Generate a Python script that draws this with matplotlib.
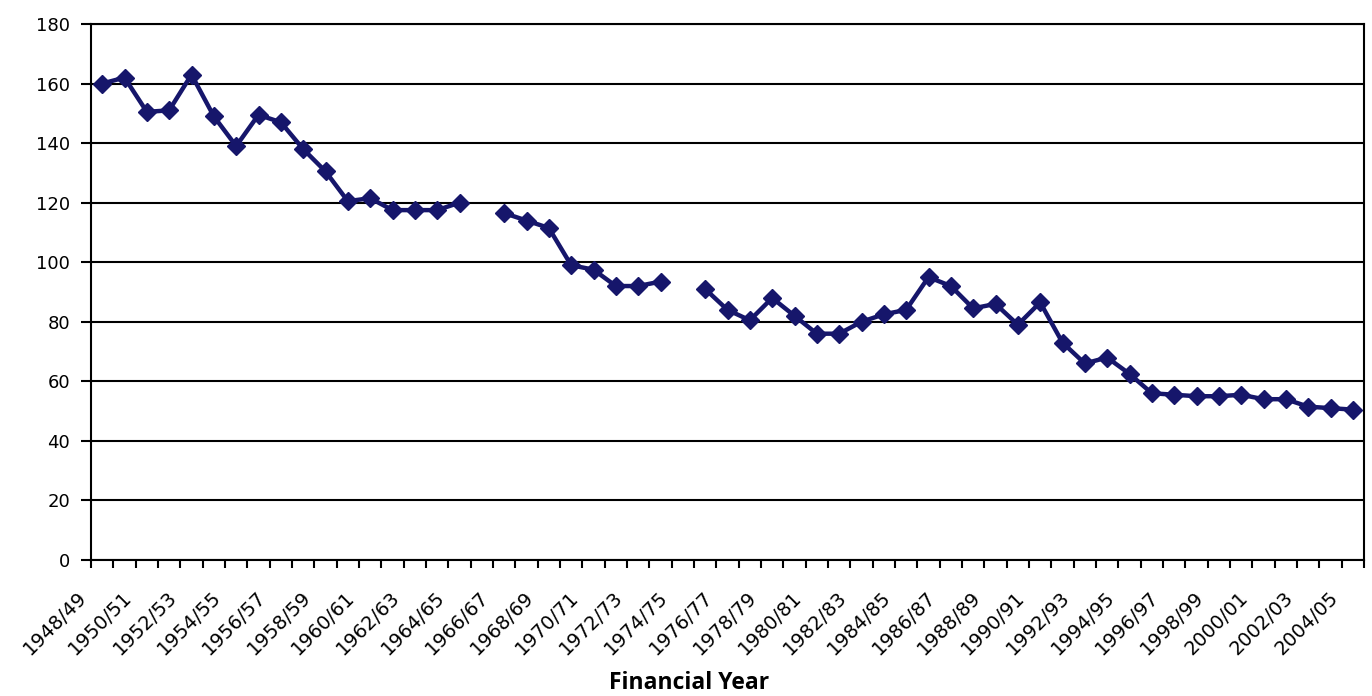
"""
Line chart of the yearly index by financial year, 1948/49 to 2004/05.
"""

import matplotlib
matplotlib.use("Agg")
import matplotlib.pyplot as plt
import matplotlib.transforms as mtransforms
import numpy as np

# Financial years on the category axis.
years = [f"{y}/{(y + 1) % 100:02d}" for y in range(1948, 2005)]

# Values per year; None where no figure was recorded (1965/66, 1974/75).
values = [
    160, 162, 150.5, 151, 163, 149, 139, 149.5, 147, 138,
    130.5, 120.5, 121.5, 117.5, 117.5, 117.5, 120, None, 116.5, 114,
    111.5, 99, 97.5, 92, 92, 93.5, None, 91, 84, 80.5,
    88, 82, 76, 76, 80, 82.5, 84, 95, 92, 84.5,
    86, 79, 86.5, 73, 66, 68, 62.5, 56, 55.5, 55,
    55, 55.5, 54, 54, 51.5, 51, 50.5,
]

# Label every second year.
label_idx = list(range(0, len(years), 2))

LINE_COLOR = "#16166b"

fig = plt.figure(figsize=(13.72, 6.96), dpi=100)
ax = fig.add_axes([91 / 1372, 136 / 696, 1273 / 1372, 536 / 696])

# Plot the series; gaps stay as breaks in the line.
x = np.arange(len(years)) + 0.5
y = np.array([np.nan if v is None else v for v in values], dtype=float)
ax.plot(x, y, color=LINE_COLOR, linewidth=3.2, marker="D", markersize=9.5,
        markerfacecolor=LINE_COLOR, markeredgecolor=LINE_COLOR, zorder=5)

# Axis ranges and horizontal grid.
ax.set_xlim(0, len(years))
ax.set_ylim(0, 180)
ax.set_yticks(np.arange(0, 181, 20))
ax.yaxis.grid(True, color="black", linewidth=1.5)
ax.set_axisbelow(True)

for side in ["left", "bottom", "right", "top"]:
    ax.spines[side].set_color("black")
    ax.spines[side].set_linewidth(1.5)

# Category boundaries get tick marks; labels sit at category centres.
ax.set_xticks(np.arange(0, len(years) + 1), minor=False)
ax.set_xticklabels([])
ax.set_xticks(x[label_idx], minor=True)
ax.set_xticklabels([years[i] for i in label_idx], minor=True,
                   rotation=45, ha="right", va="center",
                   rotation_mode="anchor", fontsize=14,
                   family="DejaVu Sans")
ax.tick_params(axis="x", which="major", direction="out", length=6, width=1.5)
ax.tick_params(axis="x", which="minor", length=0, pad=25)
ax.tick_params(axis="y", direction="out", length=7, width=1.5,
               labelsize=13, pad=8)
for lab in ax.get_yticklabels():
    lab.set_family("DejaVu Sans")

# Nudge the rotated labels left so they end just short of their point.
shift = mtransforms.ScaledTranslation(-18 / 100, 0, fig.dpi_scale_trans)
for lab in ax.xaxis.get_minorticklabels():
    lab.set_transform(lab.get_transform() + shift)

fig.text(689 / 1372, 1 / 696, "Financial Year", ha="center", va="bottom",
         fontsize=16.5, fontweight="bold", family="Open Sans")

fig.savefig("out.png", dpi=100, facecolor="white")
